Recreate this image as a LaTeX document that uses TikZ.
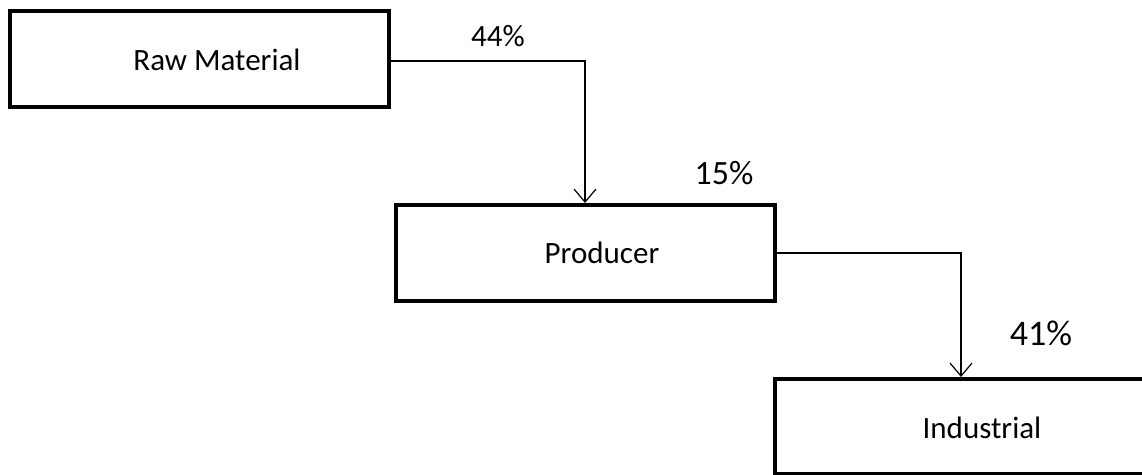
\documentclass[tikz,border=0pt]{standalone}
\usepackage{fontspec}
\setmainfont{Carlito}
\usetikzlibrary{arrows.meta}
\begin{document}
\begin{tikzpicture}[x=1pt,y=-1pt,
  box/.style={draw=black,line width=4pt,fill=white},
  conn/.style={draw=black,line width=1.2pt,-{Straight Barb[length=13pt,width=22pt,line width=1.2pt]}},
  lbl/.style={font=\fontsize{#1}{#1}\selectfont,inner sep=0pt}]
\useasboundingbox (0,0) rectangle (1142,474);
\clip (0,0) rectangle (1142,474);
\fill[white] (0,0) rectangle (1142,474);
% boxes
\path[box] (10,11) rectangle (389,107);
\path[box] (396,205) rectangle (775,301);
\path[box] (775,379) rectangle (1160,474);
\node[lbl=31] (raw) at (217,60) {Raw Material};
\node[lbl=31] (prod) at (602,253) {Producer};
\node[lbl=31] (ind) at (982,428) {Industrial};
\coordinate (rawR) at (391,61);
\coordinate (prodT) at (585,203);
\coordinate (prodR) at (777,253);
\coordinate (indT) at (961,377);
\draw[conn] (rawR) -| (prodT);
\draw[conn] (prodR) -| (indT);
\node[lbl=31] (p44) at (498,36) {44\%};
\node[lbl=34] (p15) at (724,173) {15\%};
\node[lbl=36] (p41) at (1041,333) {41\%};
\end{tikzpicture}
\end{document}
